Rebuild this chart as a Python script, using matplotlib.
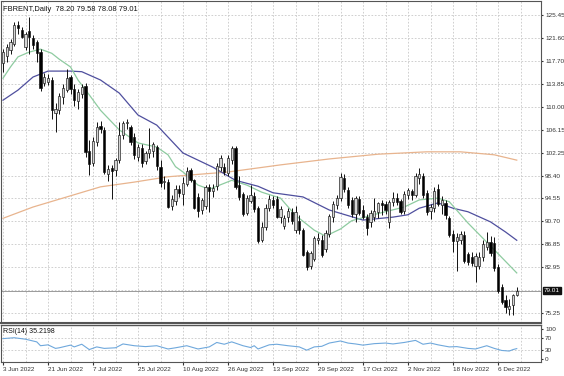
import matplotlib
matplotlib.use('Agg')
import matplotlib.pyplot as plt
import matplotlib.transforms as mtransforms
import pandas as pd

plt.rcParams['font.family'] = ['Liberation Sans', 'DejaVu Sans']

# daily bars, 3 Jun 2022 .. 13 Dec 2022 (one per business day)
dates = pd.bdate_range('2022-06-03', '2022-12-13')

opens = [
    117.4, 118.6, 119.6, 120.6, 123.8, 122.9, 120.0, 122.8, 121.6, 120.9,
    119.2, 114.0, 114.2, 114.5, 108.9, 109.4, 111.7, 112.8, 115.0, 113.0,
    111.0, 112.2, 113.5, 102.6, 100.5, 104.0, 106.8, 106.1, 98.6, 99.6,
    99.3, 101.0, 105.2, 107.3, 106.6, 104.9, 101.6, 103.0, 100.8, 102.2,
    102.6, 103.2, 99.9, 97.4, 97.3, 93.2, 94.2, 96.2, 95.3, 97.0,
    99.3, 97.6, 94.8, 92.6, 93.3, 96.4, 95.8, 96.6, 99.8, 99.9,
    98.9, 101.0, 103.0, 96.8, 95.3, 92.1, 94.2, 95.0, 92.9, 87.6,
    89.7, 93.0, 94.3, 94.5, 91.5, 89.9, 91.5, 92.3, 89.3, 90.8,
    89.2, 85.6, 83.2, 84.4, 87.6, 87.6, 86.0, 88.5, 91.5, 93.5,
    94.7, 98.0, 96.0, 94.3, 92.0, 94.4, 92.6, 91.4, 90.5, 91.5,
    92.2, 93.7, 93.6, 90.6, 94.0, 94.6, 94.1, 92.5, 95.2, 95.8,
    95.2, 98.0, 98.4, 95.4, 92.5, 92.9, 96.2, 93.4, 93.8, 91.2,
    88.6, 87.3, 87.6, 88.4, 85.2, 84.6, 83.2, 83.1, 84.6, 86.4,
    87.2, 87.0, 83.0, 79.6, 77.4, 75.9, 76.6, 78.20]
highs = [
    119.8, 120.6, 121.4, 124.3, 124.5, 123.4, 122.6, 125.1, 122.0, 121.3,
    119.8, 115.6, 115.5, 115.0, 110.6, 112.3, 113.8, 116.3, 115.3, 113.8,
    113.0, 113.8, 114.0, 104.4, 104.9, 107.4, 107.6, 106.6, 100.2, 100.1,
    101.3, 107.4, 107.6, 108.0, 107.0, 105.6, 103.7, 103.8, 102.5, 106.4,
    104.0, 103.6, 101.0, 98.3, 97.8, 95.2, 96.8, 96.8, 98.2, 99.9,
    99.7, 97.9, 95.4, 94.6, 96.8, 97.0, 97.0, 100.6, 101.8, 100.6,
    101.8, 103.4, 103.3, 98.4, 95.6, 95.2, 96.8, 95.6, 93.2, 90.6,
    93.6, 95.1, 94.9, 95.0, 93.2, 91.8, 93.0, 93.0, 93.2, 91.8,
    89.6, 85.9, 85.7, 88.3, 88.8, 88.4, 89.2, 92.0, 94.1, 95.2,
    98.8, 98.6, 96.4, 94.8, 95.0, 95.0, 93.4, 92.0, 92.6, 94.6,
    94.0, 94.3, 94.2, 94.3, 95.6, 95.4, 94.4, 95.8, 96.3, 96.2,
    98.9, 99.6, 98.9, 95.9, 93.6, 96.4, 96.9, 95.0, 94.3, 91.6,
    89.2, 88.8, 89.1, 89.0, 85.6, 85.6, 85.4, 85.5, 87.5, 88.9,
    88.2, 88.0, 83.5, 80.2, 78.2, 77.6, 78.5, 79.58]
lows = [
    115.8, 117.6, 118.8, 120.3, 122.2, 121.5, 119.6, 118.8, 119.8, 117.6,
    112.6, 113.5, 113.7, 108.0, 105.8, 108.8, 110.5, 112.4, 112.2, 110.2,
    109.6, 111.4, 101.5, 98.5, 100.0, 103.4, 105.6, 98.6, 97.5, 94.4,
    98.4, 100.6, 104.6, 106.3, 103.5, 101.2, 100.8, 99.8, 100.3, 101.3,
    101.5, 99.4, 96.5, 96.2, 92.9, 92.6, 93.4, 94.8, 93.4, 96.6,
    97.3, 92.7, 91.4, 92.0, 92.8, 92.3, 94.8, 96.0, 99.2, 98.5,
    98.4, 100.3, 96.2, 94.3, 91.6, 91.8, 93.8, 92.2, 87.0, 87.2,
    89.3, 92.4, 93.0, 91.2, 90.4, 89.4, 90.6, 90.2, 88.8, 88.6,
    84.8, 82.5, 82.6, 84.0, 86.9, 84.7, 85.6, 88.1, 90.6, 92.8,
    94.2, 95.6, 93.0, 91.5, 90.5, 91.8, 91.0, 88.4, 89.8, 90.8,
    91.2, 91.8, 92.0, 89.6, 93.2, 93.4, 92.0, 92.0, 94.4, 94.3,
    94.8, 96.9, 94.7, 91.8, 91.0, 92.3, 93.2, 92.0, 91.0, 88.0,
    85.5, 82.3, 86.8, 83.6, 83.4, 83.2, 80.5, 82.6, 84.0, 85.8,
    84.9, 82.4, 78.6, 76.8, 75.2, 74.9, 74.9, 78.08]
closes = [
    119.2, 120.0, 120.9, 123.8, 123.2, 121.8, 122.3, 121.7, 120.4, 119.1,
    113.2, 115.0, 114.8, 109.4, 109.6, 111.8, 113.2, 114.9, 113.0, 111.1,
    112.4, 113.4, 102.4, 100.4, 104.2, 106.6, 106.2, 99.0, 99.5, 99.2,
    101.0, 105.2, 107.3, 107.5, 104.1, 101.8, 103.2, 100.6, 102.2, 102.8,
    103.8, 100.0, 97.2, 97.5, 93.1, 94.5, 96.1, 95.5, 97.2, 99.2,
    97.7, 93.0, 92.4, 94.2, 96.4, 95.8, 96.3, 100.0, 101.4, 99.0,
    101.3, 103.0, 96.5, 94.8, 92.0, 94.7, 95.2, 92.8, 87.4, 89.8,
    93.0, 94.5, 93.4, 91.5, 92.8, 91.3, 92.4, 90.7, 92.3, 89.3,
    85.0, 83.0, 85.3, 87.8, 87.9, 85.1, 88.8, 91.6, 93.6, 94.7,
    98.2, 96.1, 93.4, 91.9, 94.6, 92.1, 91.5, 89.5, 92.1, 92.5,
    93.8, 93.5, 92.6, 93.9, 94.6, 94.0, 92.3, 95.3, 95.9, 95.2,
    98.3, 98.6, 95.1, 92.3, 93.1, 95.8, 93.6, 94.3, 91.7, 88.4,
    87.4, 88.0, 88.6, 84.0, 83.9, 83.6, 84.8, 84.6, 86.9, 87.2,
    85.4, 82.8, 78.9, 77.1, 76.2, 76.4, 78.2, 79.01]

# moving averages (bar index, value)
ma_slow_bars = [0, 8, 17, 26, 35, 44, 52, 60, 74, 87, 100, 113, 122, 131, 137]
ma_slow_vals = [91.2, 93.1, 94.8, 96.5, 97.3, 98.2, 98.6, 99.0, 100.2, 101.2,
                102.0, 102.4, 102.4, 101.9, 101.0]
ma_mid_bars = [0, 4, 8, 12, 18, 21, 26, 31, 36, 41, 48, 56, 62, 68, 72, 80,
               87, 96, 104, 108, 111, 116, 120, 124, 130, 134, 137]
ma_mid_vals = [111.1, 112.8, 115.0, 116.0, 116.0, 115.9, 114.5, 112.3, 108.6,
               106.9, 102.2, 99.8, 97.6, 96.6, 95.5, 94.8, 92.6, 90.9, 91.4,
               91.8, 92.9, 93.8, 92.9, 92.3, 90.6, 88.9, 87.5]
ma_fast_bars = [0, 2, 4, 7, 10, 13, 15, 18, 20, 23, 26, 31, 36, 41, 44, 46, 48,
                52, 55, 59, 61, 65, 69, 74, 78, 83, 86, 90, 93, 96, 100, 107,
                111, 116, 119, 124, 131, 137]
ma_fast_vals = [114.8, 116.7, 118.4, 119.2, 119.7, 119.0, 118.0, 116.7, 114.5,
                112.0, 109.4, 106.1, 103.9, 103.2, 101.9, 99.9, 99.0, 96.8,
                96.1, 97.1, 97.6, 96.8, 95.6, 94.6, 91.7, 89.2, 88.2, 89.4,
                90.8, 91.3, 92.0, 93.1, 94.3, 94.6, 94.0, 90.4, 85.9, 82.0]

# RSI(14) (bar index, value)
rsi_bars = [0, 3, 6, 9, 10, 12, 14, 15, 18, 19, 21, 23, 25, 27, 30, 32, 35,
            38, 41, 44, 46, 49, 52, 55, 57, 59, 61, 64, 66, 67, 68, 71, 73,
            76, 79, 81, 83, 85, 87, 90, 92, 94, 96, 99, 102, 104, 107, 110,
            112, 114, 116, 119, 121, 124, 126, 129, 131, 133, 135, 136, 137]
rsi_vals = [69, 72, 67, 58, 45, 48, 36, 38, 47, 41, 50, 32, 41, 36, 38, 51,
            45, 42, 45, 34, 38, 45, 34, 41, 56, 50, 58, 45, 39, 45, 34, 48,
            50, 45, 41, 30, 41, 43, 54, 61, 54, 51, 47, 52, 54, 51, 56, 63,
            50, 54, 48, 41, 42, 36, 34, 45, 36, 29, 27, 32, 35.22]

price_ticks = [125.45, 121.60, 117.70, 113.85, 110.00, 106.15, 102.25, 98.40,
               94.55, 90.70, 86.85, 82.95, 75.25]
grid_prices = price_ticks + [79.10]
date_labels = ['3 Jun 2022', '21 Jun 2022', '7 Jul 2022', '25 Jul 2022',
               '10 Aug 2022', '26 Aug 2022', '13 Sep 2022', '29 Sep 2022',
               '17 Oct 2022', '2 Nov 2022', '18 Nov 2022', '6 Dec 2022']
header = 'FBRENT,Daily  78.20 79.58 78.08 79.01'
rsi_header = 'RSI(14) 35.2198'

W, H = 564, 376
def rect(x0, y0, x1, y1):
    return [x0 / W, 1 - y1 / H, (x1 - x0) / W, (y1 - y0) / H]

fig = plt.figure(figsize=(5.64, 3.76), dpi=100)
fig.patch.set_facecolor('white')
ax = fig.add_axes(rect(1, 1, 541, 323))
rax = fig.add_axes(rect(1, 325, 541, 362), sharex=ax)

fs = 4.6
tcol = '#333333'
gcol = '#c8c8c8'
n = len(closes)
x = list(range(n))

# candles
up = [c >= o for o, c in zip(opens, closes)]
ax.vlines(x, lows, highs, color='#111111', lw=0.7, zorder=3)
bottoms = [min(o, c) for o, c in zip(opens, closes)]
heights = [max(abs(c - o), 0.12) for o, c in zip(opens, closes)]
ax.bar(x, heights, bottom=bottoms, width=0.62,
       color=['#d4d4d4' if u else '#000000' for u in up],
       edgecolor='#111111', linewidth=0.45, zorder=4)

# moving averages
ax.plot(ma_slow_bars, ma_slow_vals, color='#e8b48e', lw=0.9, zorder=2)
ax.plot(ma_mid_bars, ma_mid_vals, color='#4f4f9e', lw=0.9, zorder=2)
ax.plot(ma_fast_bars, ma_fast_vals, color='#8ecba0', lw=0.9, zorder=2)

# axes ranges
ax.set_xlim((1 - 3) / 3.75, (541 - 3) / 3.75)
ax.set_ylim(125.45 - 308 / 5.936, 125.45 + 14 / 5.936)

# grid
for p in grid_prices:
    ax.axhline(p, color=gcol, lw=0.6, ls=(0, (2, 2)), zorder=1)
for k in range(0, n + 6, 6):
    ax.axvline(k, color=gcol, lw=0.6, ls=(0, (2, 2)), zorder=1)
    rax.axvline(k, color=gcol, lw=0.6, ls=(0, (2, 2)), zorder=1)
ax.axhline(closes[-1], color='#9a9a9a', lw=0.7, zorder=1)

ax.yaxis.tick_right()
ax.set_yticks(price_ticks)
ax.set_yticklabels(['%.2f' % p for p in price_ticks])
ax.tick_params(axis='y', labelsize=fs, colors=tcol, length=1.5, pad=1.5)
ax.tick_params(axis='x', bottom=False, labelbottom=False)
ax.text(1.005, closes[-1], '%.2f' % closes[-1],
        transform=mtransforms.blended_transform_factory(ax.transAxes, ax.transData),
        fontsize=fs, color='white', va='center', ha='left',
        bbox=dict(boxstyle='square,pad=0.15', fc='#111111', ec='#111111'))
ax.text(0.004, 0.985, header, transform=ax.transAxes, fontsize=5.4,
        color='#111111', va='top', ha='left')

for s in ax.spines.values():
    s.set_color('#555555')
    s.set_linewidth(0.8)
ax.spines['bottom'].set_linewidth(1.5)

# RSI panel
rax.plot(rsi_bars, rsi_vals, color='#6fa8dc', lw=0.8, zorder=3)
for lv in (30, 70):
    rax.axhline(lv, color=gcol, lw=0.6, ls=(0, (2, 2)), zorder=1)
rax.set_ylim(-10, 115)
rax.yaxis.tick_right()
rax.set_yticks([0, 30, 70, 100])
rax.set_yticklabels(['0', '30', '70', '100'])
rax.tick_params(axis='y', labelsize=fs, colors=tcol, length=1.5, pad=1.5)
rax.text(0.004, 0.93, rsi_header, transform=rax.transAxes, fontsize=5.0,
         color='#111111', va='top', ha='left')
for s in rax.spines.values():
    s.set_color('#555555')
    s.set_linewidth(0.8)
rax.spines['top'].set_linewidth(1.0)

tick_bars = [dates.get_loc(pd.Timestamp(d)) for d in date_labels]
rax.set_xticks(tick_bars)
rax.set_xticklabels(date_labels, ha='left')
rax.tick_params(axis='x', labelsize=fs, colors=tcol, length=2, pad=1.5)

fig.savefig('out.png', dpi=100)
